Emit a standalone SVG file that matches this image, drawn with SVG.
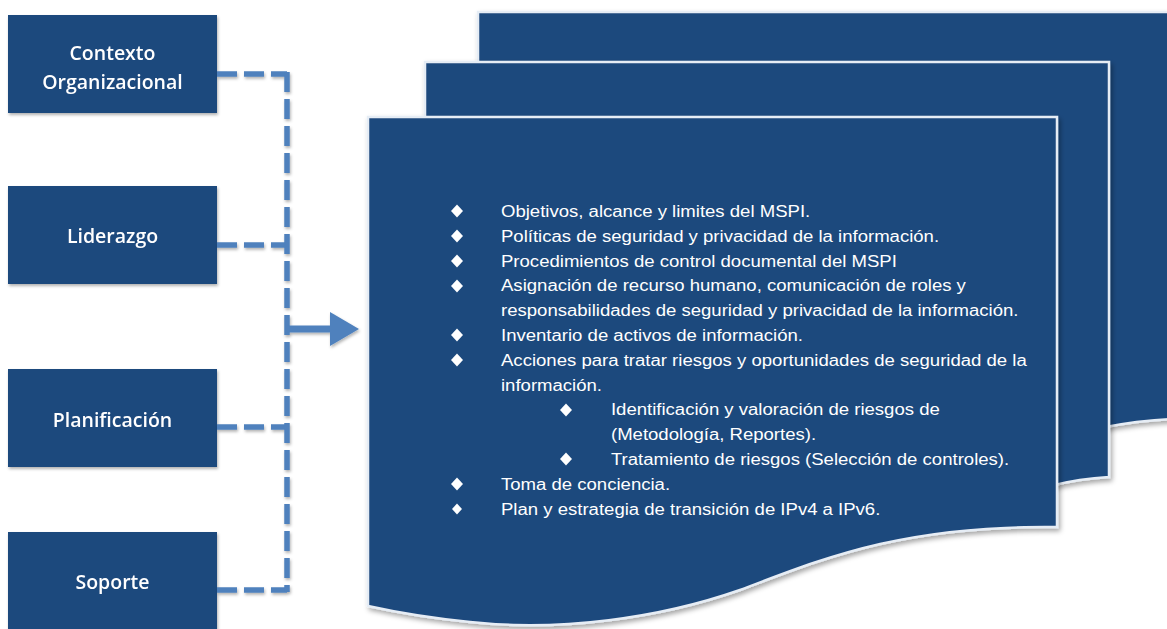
<svg xmlns="http://www.w3.org/2000/svg" width="1167" height="629" viewBox="0 0 1167 629">
<defs>
  <filter id="sh" x="-10%" y="-10%" width="125%" height="125%">
    <feDropShadow dx="2" dy="3" stdDeviation="2.5" flood-color="#000" flood-opacity="0.35"/>
  </filter>
  <filter id="shs" x="-10%" y="-10%" width="125%" height="125%">
    <feDropShadow dx="1" dy="2" stdDeviation="1.5" flood-color="#000" flood-opacity="0.3"/>
  </filter>
  <path id="dia" d="M0,-6.5 L6,0 L0,6.5 L-6,0 Z"/>
</defs>
<style>
  .box { fill: #1f497d; }
  .blabel { font-family: "Open Sans", "Liberation Sans", sans-serif; font-weight: 600; font-size: 19.5px; fill: #ffffff; text-anchor: middle; }
  .doc { fill: #1f497d; stroke: #e6edf5; stroke-width: 2.5; }
  .conn { fill: none; stroke: #4f81bd; stroke-width: 5.5; stroke-dasharray: 20 7; }
  .li { font-family: "Liberation Sans", Arial, sans-serif; font-size: 16px; fill: #ffffff; }
  .bul { fill: #ffffff; }
</style>
<rect x="0" y="0" width="1167" height="629" fill="#ffffff"/>

<g id="docs">
  <g id="doc-back" filter="url(#sh)">
    <path class="doc" d="M478,12 L1172,12 L1172,419 C1150,420 1125,423 1100,428 L478,428 Z"/>
  </g>
  <g id="doc-middle" filter="url(#sh)">
    <path class="doc" d="M425,62 L1109,62 L1109,477 C1090,478 1070,481 1050,486 L425,486 Z"/>
  </g>
  <g id="doc-front" filter="url(#sh)">
    <path class="doc" d="M368,117 L1057,117 L1057,527 C900,525 820,560 740,590 C660,618 560,632 470,622 C430,618 395,612 368,606 Z"/>
  </g>
</g>

<g id="node-contexto" filter="url(#shs)">
  <rect class="box" x="8" y="15" width="209" height="98"/>
  <text class="blabel" x="112.5" y="60">Contexto</text>
  <text class="blabel" x="112.5" y="89">Organizacional</text>
</g>
<g id="node-liderazgo" filter="url(#shs)">
  <rect class="box" x="8" y="186" width="209" height="98"/>
  <text class="blabel" x="112.5" y="243">Liderazgo</text>
</g>
<g id="node-planificacion" filter="url(#shs)">
  <rect class="box" x="8" y="369" width="209" height="98"/>
  <text class="blabel" x="112.5" y="427">Planificación</text>
</g>
<g id="node-soporte" filter="url(#shs)">
  <rect class="box" x="8" y="532" width="209" height="110"/>
  <text class="blabel" x="112.5" y="589">Soporte</text>
</g>

<g id="connectors" filter="url(#shs)">
  <path class="conn" d="M217,74 H287"/>
  <path class="conn" d="M217,245 H287"/>
  <path class="conn" d="M217,427 H287"/>
  <path class="conn" d="M217,590 H287"/>
  <path class="conn" d="M287,72 V592"/>
  <path d="M287,329 H334" stroke="#4f81bd" stroke-width="7" fill="none"/>
  <polygon points="330,312 359,329 330,346" fill="#4f81bd"/>
</g>

<g id="list">
  <use href="#dia" class="bul" x="457" y="211"/>
  <use href="#dia" class="bul" x="457" y="236"/>
  <use href="#dia" class="bul" x="457" y="261"/>
  <use href="#dia" class="bul" x="457" y="286"/>
  <use href="#dia" class="bul" x="457" y="335"/>
  <use href="#dia" class="bul" x="457" y="360"/>
  <use href="#dia" class="bul" x="566" y="410"/>
  <use href="#dia" class="bul" x="566" y="459"/>
  <use href="#dia" class="bul" x="457" y="484"/>
  <path class="bul" d="M457,503.5 L462,509 L457,514.5 L452,509 Z"/>
  <g transform="translate(501 0) scale(1.16 1)">
    <text class="li" x="0" y="217">Objetivos, alcance y limites del MSPI.</text>
    <text class="li" x="0" y="241.8">Políticas de seguridad y privacidad de la información.</text>
    <text class="li" x="0" y="266.6">Procedimientos de control documental del MSPI</text>
    <text class="li" x="0" y="291.4">Asignación de recurso humano, comunicación de roles y</text>
    <text class="li" x="0" y="316.2">responsabilidades de seguridad y privacidad de la información.</text>
    <text class="li" x="0" y="341">Inventario de activos de información.</text>
    <text class="li" x="0" y="365.8">Acciones para tratar riesgos y oportunidades de seguridad de la</text>
    <text class="li" x="0" y="390.6">información.</text>
    <text class="li" x="94.8" y="415.4">Identificación y valoración de riesgos de</text>
    <text class="li" x="94.8" y="440.2">(Metodología, Reportes).</text>
    <text class="li" x="94.8" y="465">Tratamiento de riesgos (Selección de controles).</text>
    <text class="li" x="0" y="489.8">Toma de conciencia.</text>
    <text class="li" x="0" y="514.6">Plan y estrategia de transición de IPv4 a IPv6.</text>
  </g>
</g>
</svg>
